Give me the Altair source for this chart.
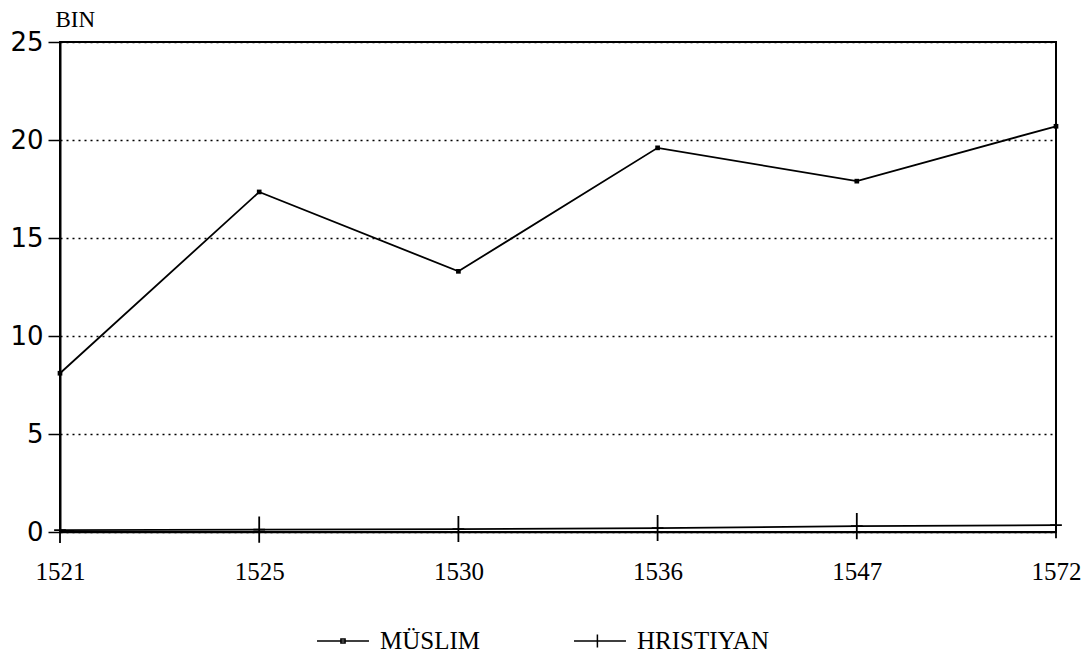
import altair as alt
import pandas as pd

years = ["1521", "1525", "1530", "1536", "1547", "1572"]
muslim = [8.1, 17.35, 13.3, 19.6, 17.9, 20.7]
christian = [0.1, 0.12, 0.15, 0.2, 0.3, 0.35]
series_names = ["MÜSLIM", "HRISTIYAN"]
y_ticks = [0, 5, 10, 15, 20, 25]

rows = []
for y, m, c in zip(years, muslim, christian):
    rows.append({"year": y, "value": m, "series": series_names[0]})
    rows.append({"year": y, "value": c, "series": series_names[1]})
df = pd.DataFrame(rows)

x_enc = alt.X("year:O", sort=years,
              scale=alt.Scale(type="point", padding=0),
              axis=alt.Axis(title=None, labelAngle=0, ticks=False, domain=True,
                            domainColor="black", domainWidth=1.5,
                            labelFont="Liberation Serif", labelFontSize=25,
                            labelColor="black", labelPadding=27))
y_enc = alt.Y("value:Q", scale=alt.Scale(domain=[0, 25], nice=False),
              axis=alt.Axis(values=y_ticks, title="BIN", titleAngle=0,
                            titleAlign="left", titleBaseline="bottom",
                            titleX=-5, titleY=-11,
                            titleFont="Liberation Serif", titleFontSize=23,
                            titleFontWeight="normal", titleColor="black",
                            labelFont="DejaVu Sans", labelFontSize=26,
                            labelColor="black", labelPadding=5,
                            tickSize=12, tickColor="black", tickWidth=1.5,
                            domainColor="black", domainWidth=2,
                            grid=True, gridColor="black", gridDash=[2, 4],
                            gridWidth=1.5))

base = alt.Chart(df)

lines = base.mark_line(color="black", strokeWidth=1.8).encode(
    x=x_enc, y=y_enc, detail="series:N")

m_points = base.transform_filter(alt.datum.series == series_names[0]).mark_point(
    shape="square", filled=True, color="black", size=22, opacity=1).encode(
    x=x_enc, y=y_enc)

cross_path = "M-0.45,0H0.45M0,-1V1"
c_points = base.transform_filter(alt.datum.series == series_names[1]).mark_point(
    shape=cross_path, filled=False, color="black", strokeWidth=1.8,
    size=680, opacity=1).encode(
    x=x_enc, y=y_enc)

legend_m = "M-1,0H1M-0.08,-0.08H0.08V0.08H-0.08Z"
legend_c = "M-1,0H1M-0.1,0M-0.1,-0.25V0.25"
legend_layer = base.mark_point(opacity=0, filled=False).encode(
    x=x_enc, y=y_enc,
    shape=alt.Shape("series:N",
                    scale=alt.Scale(domain=series_names, range=[legend_m, legend_c]),
                    legend=alt.Legend(title=None, orient="none", direction="horizontal",
                                      legendX=256, legendY=572,
                                      symbolSize=2700, symbolStrokeColor="black",
                                      symbolStrokeWidth=1.5, symbolOpacity=1,
                                      symbolFillColor="black",
                                      labelFont="Liberation Serif", labelFontSize=25,
                                      labelColor="black", labelOffset=10,
                                      columnPadding=90, symbolOffset=0, padding=0)))

chart = alt.layer(lines, m_points, c_points, legend_layer).properties(
    width=996, height=490,
    background="white",
    autosize=alt.AutoSizeParams(type="none"),
    padding={"left": 52, "top": 34, "right": 25, "bottom": 122},
).configure_view(stroke="black", strokeWidth=2)

chart.save("out.html", embed_options={"renderer": "svg", "actions": False})
